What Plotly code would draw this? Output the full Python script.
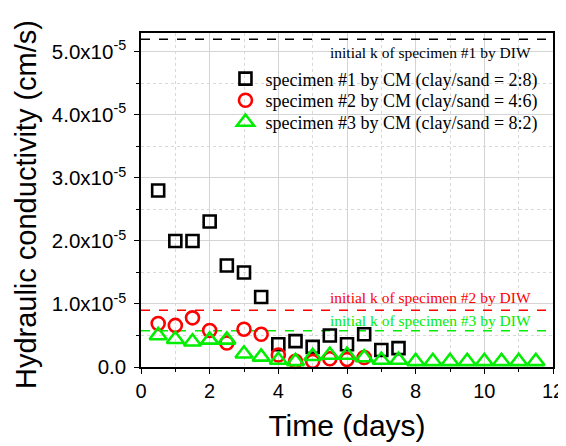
import plotly.graph_objects as go

# Data (k values in units of 1e-5 cm/s)
days1 = [0.5, 1.0, 1.5, 2.0, 2.5, 3.0, 3.5, 4.0, 4.5, 5.0, 5.5, 6.0, 6.5, 7.0, 7.5]
k1 = [2.80, 2.00, 2.00, 2.31, 1.61, 1.50, 1.11, 0.36, 0.41, 0.32, 0.50, 0.36, 0.52, 0.27, 0.30]

days2 = [0.5, 1.0, 1.5, 2.0, 2.5, 3.0, 3.5, 4.0, 4.5, 5.0, 5.5, 6.0, 6.5]
k2 = [0.69, 0.66, 0.78, 0.58, 0.38, 0.60, 0.52, 0.19, 0.09, 0.09, 0.13, 0.12, 0.15]

days3 = [0.5, 1.0, 1.5, 2.0, 2.5, 3.0, 3.5, 4.0, 4.5, 5.0, 5.5, 6.0, 6.5, 7.0, 7.5,
         8.0, 8.5, 9.0, 9.5, 10.0, 10.5, 11.0, 11.5]
k3 = [0.50, 0.44, 0.40, 0.43, 0.43, 0.21, 0.16, 0.11, 0.09, 0.17, 0.19, 0.19, 0.15, 0.11, 0.11,
      0.09, 0.09, 0.09, 0.09, 0.09, 0.09, 0.09, 0.09]

init_k = [5.20, 0.90, 0.575]
init_labels = ["initial k of specimen #1 by DIW", "initial k of specimen #2 by DIW",
               "initial k of specimen #3 by DIW"]
label_y = [4.99, 1.11, 0.745]
colors = ["black", "red", "#00ee00"]

series_names = ["specimen #1 by CM (clay/sand = 2:8)",
                "specimen #2 by CM (clay/sand = 4:6)",
                "specimen #3 by CM (clay/sand = 8:2)"]

ytick_vals = [0, 1, 2, 3, 4, 5]
ytick_text = ["0.0", "1.0x10<sup>-5</sup>", "2.0x10<sup>-5</sup>", "3.0x10<sup>-5</sup>",
              "4.0x10<sup>-5</sup>", "5.0x10<sup>-5</sup>"]
xtick_vals = [0, 2, 4, 6, 8, 10, 12]
y_title = "Hydraulic conductivity (cm/s)"
x_title = "Time (days)"

SCALE = 1e-5

fig = go.Figure()

# dashed reference lines
for k, c in zip(init_k, colors):
    fig.add_trace(go.Scatter(x=[0, 12], y=[k * SCALE, k * SCALE], mode="lines",
                             line=dict(color=c, width=1.6, dash="dash"),
                             showlegend=False, hoverinfo="skip"))

symbols = ["square-open", "circle-open", "triangle-up-open"]
sizes = [12, 13, 15]
legends = ["legend", "legend2", "legend3"]
for d, k, c, s, sz, n, lg in zip([days1, days2, days3], [k1, k2, k3], colors, symbols, sizes,
                                 series_names, legends):
    fig.add_trace(go.Scatter(x=d, y=[v * SCALE for v in k], mode="markers", name=n, legend=lg,
                             marker=dict(symbol=s, size=sz, color=c, line=dict(color=c, width=2.6)),
                             cliponaxis=False))

for t, y, c in zip(init_labels, label_y, colors):
    fig.add_annotation(x=11.43, y=y * SCALE, text=t, showarrow=False, xanchor="right",
                       yanchor="middle", font=dict(family="Liberation Serif", size=15.5, color=c))

# y-axis title as a rotated annotation for exact placement
fig.add_annotation(xref="paper", yref="paper", x=-0.279, y=0.485, text=y_title, textangle=-90,
                   showarrow=False, xanchor="center", yanchor="middle",
                   font=dict(family="Liberation Sans", size=29, color="black"))

axis_common = dict(showline=True, linecolor="black", linewidth=1.5, mirror=True,
                   ticks="outside", ticklen=5, tickwidth=1, tickcolor="black",
                   showgrid=True, gridcolor="#d4d4d4", gridwidth=1, zeroline=False,
                   automargin=False)

fig.update_xaxes(range=[0, 12], tickvals=xtick_vals,
                 tickfont=dict(family="Liberation Sans", size=20, color="black"),
                 minor=dict(dtick=1, ticks="outside", ticklen=3, tickcolor="black",
                            showgrid=True, gridcolor="#d8d8d8", griddash="dot"),
                 title=dict(text=x_title, font=dict(family="Liberation Sans", size=30, color="black"),
                            standoff=14),
                 **axis_common)
fig.update_yaxes(range=[0, 5.3 * SCALE], tickvals=[v * SCALE for v in ytick_vals], ticktext=ytick_text,
                 tickfont=dict(family="Liberation Sans", size=20.5, color="black"),
                 ticklabelstandoff=4,
                 minor=dict(tickvals=[v * SCALE for v in [0.5, 1.5, 2.5, 3.5, 4.5]], ticks="outside",
                            ticklen=3, tickcolor="black", showgrid=True, gridcolor="#d8d8d8", griddash="dot"),
                 **axis_common)

leg_common = dict(xanchor="left", yanchor="top", bgcolor="rgba(0,0,0,0)",
                  font=dict(family="Liberation Serif", size=18, color="black"), itemsizing="trace")
# page body has an 8px margin, so the figure is sized 8px smaller on each axis
fig.update_layout(
    width=558, height=438,
    margin=dict(l=133, r=13, t=25, b=79),
    paper_bgcolor="white", plot_bgcolor="white",
    legend=dict(x=0.205, y=0.918, **leg_common),
    legend2=dict(x=0.205, y=0.853, **leg_common),
    legend3=dict(x=0.205, y=0.788, **leg_common),
)

fig.write_html("out.html")
